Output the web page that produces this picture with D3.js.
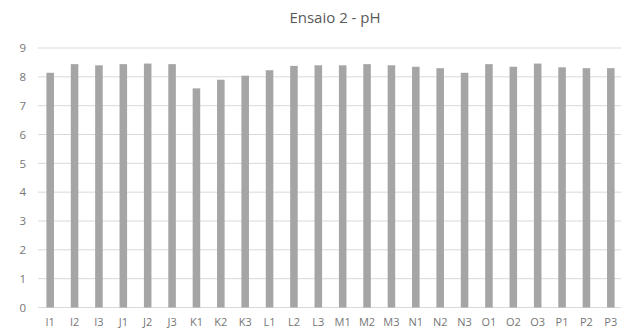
<!DOCTYPE html>
<html>
<head>
<meta charset="utf-8">
<script src="https://cdn.jsdelivr.net/npm/d3@7"></script>
<style>
  body { margin: 0; background: #fff; }
  text { font-family: "Open Sans", "DejaVu Sans", sans-serif; }
</style>
</head>
<body>
<div id="main"></div>
<script>
const categories = ['I1','I2','I3','J1','J2','J3','K1','K2','K3','L1','L2','L3',
  'M1','M2','M3','N1','N2','N3','O1','O2','O3','P1','P2','P3'];
const phValues = [8.14, 8.44, 8.40, 8.44, 8.46, 8.44, 7.60, 7.90, 8.04, 8.23, 8.38, 8.40,
  8.40, 8.44, 8.40, 8.35, 8.30, 8.14, 8.44, 8.35, 8.46, 8.33, 8.30, 8.30];
const yTicks = [0, 1, 2, 3, 4, 5, 6, 7, 8, 9];
const title = 'Ensaio 2 - pH';

const width = 621, height = 335;
const margin = {top: 48, right: -2, bottom: 27.5, left: 38};

const svg = d3.select('#main').append('svg')
  .attr('width', width).attr('height', height);

const x = d3.scaleBand()
  .domain(categories)
  .range([margin.left, width - margin.right])
  .paddingInner(0.69).paddingOuter(0.345);

const y = d3.scaleLinear()
  .domain([0, 9])
  .range([height - margin.bottom, margin.top]);

// gridlines
svg.append('g')
  .selectAll('line').data(yTicks).join('line')
  .attr('x1', margin.left).attr('x2', width)
  .attr('y1', d => y(d)).attr('y2', d => y(d))
  .attr('stroke', '#d9d9d9').attr('stroke-width', 1);

// y axis labels
const yAxis = svg.append('g')
  .attr('transform', `translate(${margin.left},0)`)
  .call(d3.axisLeft(y).tickValues(yTicks).tickSize(0).tickPadding(12));
yAxis.select('.domain').remove();
yAxis.selectAll('text').attr('fill', '#767676').style('font-size', '11.5px');

// bars
svg.append('g')
  .selectAll('rect').data(categories).join('rect')
  .attr('x', d => x(d))
  .attr('width', x.bandwidth())
  .attr('y', (d, i) => y(phValues[i]))
  .attr('height', (d, i) => y(0) - y(phValues[i]))
  .attr('fill', '#a5a5a5');

// x axis labels
const xAxis = svg.append('g')
  .attr('transform', `translate(0,${y(0)})`)
  .call(d3.axisBottom(x).tickSize(0).tickPadding(11));
xAxis.select('.domain').remove();
xAxis.selectAll('text').attr('fill', '#767676').style('font-size', '11px');

// title
svg.append('text')
  .attr('x', 335).attr('y', 23)
  .attr('text-anchor', 'middle')
  .attr('fill', '#595959')
  .style('font-size', '15px')
  .text(title);
</script>
</body>
</html>
